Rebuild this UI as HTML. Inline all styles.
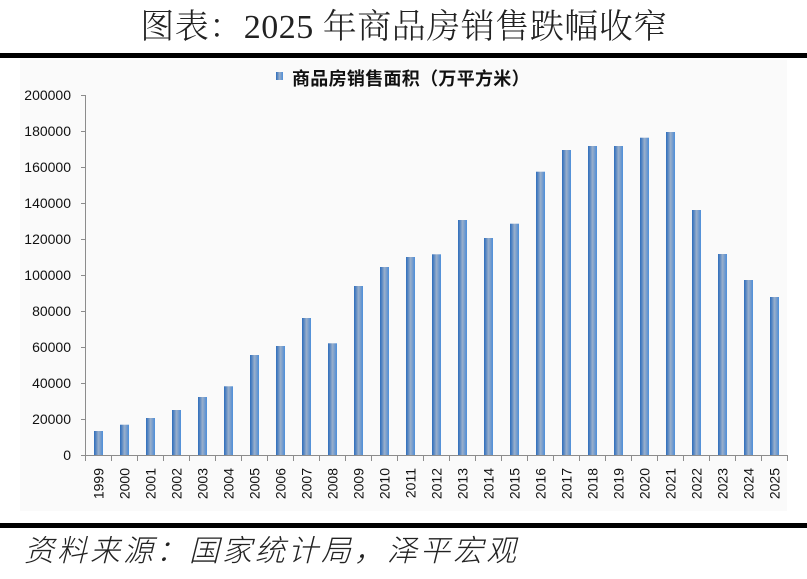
<!DOCTYPE html>
<html><head><meta charset="utf-8"><style>
html,body{margin:0;padding:0;background:#fff;}
svg{display:block;}
</style></head><body>
<svg width="807" height="579" viewBox="0 0 807 579" xmlns="http://www.w3.org/2000/svg">
<defs>
<linearGradient id="bg" x1="0" y1="0" x2="1" y2="0">
<stop offset="0" stop-color="#2f6dbb"/>
<stop offset="0.2" stop-color="#5485c2"/>
<stop offset="0.5" stop-color="#9bb0cb"/>
<stop offset="0.8" stop-color="#6b98cf"/>
<stop offset="1" stop-color="#4c90dc"/>
</linearGradient>
</defs>
<rect x="0" y="0" width="807" height="579" fill="#fff"/>
<text x="404" y="38" text-anchor="middle" font-family="'Liberation Serif','Noto Serif CJK SC',serif" font-size="34" font-weight="300" fill="#222" letter-spacing="0.5">图表：2025 年商品房销售跌幅收窄</text>
<rect x="0" y="53" width="807" height="5" fill="#000"/>
<rect x="20" y="60" width="767" height="451" fill="#fafafa"/>
<!-- legend -->
<rect x="276" y="72" width="7" height="8" fill="url(#bg)"/>
<text x="292" y="85" font-family="'Liberation Sans','Noto Sans CJK SC',sans-serif" font-size="18" font-weight="bold" fill="#111" letter-spacing="0.3">商品房销售面积（万平方米）</text>
<!-- y axis -->
<g stroke="#8c8c8c" stroke-width="1">
<line x1="85.5" y1="95" x2="85.5" y2="455.5"/>
<line x1="85.5" y1="455.5" x2="787.5" y2="455.5"/>
</g>
<g stroke="#8c8c8c" stroke-width="1">
<line x1="81" y1="95.5" x2="86" y2="95.5"/>
<line x1="81" y1="131.5" x2="86" y2="131.5"/>
<line x1="81" y1="167.5" x2="86" y2="167.5"/>
<line x1="81" y1="203.5" x2="86" y2="203.5"/>
<line x1="81" y1="239.5" x2="86" y2="239.5"/>
<line x1="81" y1="275.5" x2="86" y2="275.5"/>
<line x1="81" y1="311.5" x2="86" y2="311.5"/>
<line x1="81" y1="347.5" x2="86" y2="347.5"/>
<line x1="81" y1="383.5" x2="86" y2="383.5"/>
<line x1="81" y1="419.5" x2="86" y2="419.5"/>
<line x1="81" y1="455.5" x2="86" y2="455.5"/>
</g>
<g font-family="'Liberation Sans',sans-serif" font-size="14" fill="#111" text-anchor="end">
<text x="71" y="100">200000</text>
<text x="71" y="136">180000</text>
<text x="71" y="172">160000</text>
<text x="71" y="208">140000</text>
<text x="71" y="244">120000</text>
<text x="71" y="280">100000</text>
<text x="71" y="316">80000</text>
<text x="71" y="352">60000</text>
<text x="71" y="388">40000</text>
<text x="71" y="424">20000</text>
<text x="71" y="460">0</text>
</g>
<!-- x ticks -->
<g stroke="#8c8c8c" stroke-width="1">
<line x1="85.5" y1="455" x2="85.5" y2="461"/>
<line x1="111.5" y1="455" x2="111.5" y2="461"/>
<line x1="137.5" y1="455" x2="137.5" y2="461"/>
<line x1="163.5" y1="455" x2="163.5" y2="461"/>
<line x1="189.5" y1="455" x2="189.5" y2="461"/>
<line x1="215.5" y1="455" x2="215.5" y2="461"/>
<line x1="241.5" y1="455" x2="241.5" y2="461"/>
<line x1="267.5" y1="455" x2="267.5" y2="461"/>
<line x1="293.5" y1="455" x2="293.5" y2="461"/>
<line x1="319.5" y1="455" x2="319.5" y2="461"/>
<line x1="345.5" y1="455" x2="345.5" y2="461"/>
<line x1="371.5" y1="455" x2="371.5" y2="461"/>
<line x1="397.5" y1="455" x2="397.5" y2="461"/>
<line x1="423.5" y1="455" x2="423.5" y2="461"/>
<line x1="449.5" y1="455" x2="449.5" y2="461"/>
<line x1="475.5" y1="455" x2="475.5" y2="461"/>
<line x1="501.5" y1="455" x2="501.5" y2="461"/>
<line x1="527.5" y1="455" x2="527.5" y2="461"/>
<line x1="553.5" y1="455" x2="553.5" y2="461"/>
<line x1="579.5" y1="455" x2="579.5" y2="461"/>
<line x1="605.5" y1="455" x2="605.5" y2="461"/>
<line x1="631.5" y1="455" x2="631.5" y2="461"/>
<line x1="657.5" y1="455" x2="657.5" y2="461"/>
<line x1="683.5" y1="455" x2="683.5" y2="461"/>
<line x1="709.5" y1="455" x2="709.5" y2="461"/>
<line x1="735.5" y1="455" x2="735.5" y2="461"/>
<line x1="761.5" y1="455" x2="761.5" y2="461"/>
<line x1="787.5" y1="455" x2="787.5" y2="461"/>
</g>
<!-- bars -->
<g fill="url(#bg)">
<rect x="94" y="431" width="9" height="24"/>
<rect x="120" y="424.7" width="9" height="30.3"/>
<rect x="146" y="418" width="9" height="37"/>
<rect x="172" y="410" width="9" height="45"/>
<rect x="198" y="397" width="9" height="58"/>
<rect x="224" y="386.3" width="9" height="68.7"/>
<rect x="250" y="355" width="9" height="100"/>
<rect x="276" y="346" width="9" height="109"/>
<rect x="302" y="318" width="9" height="137"/>
<rect x="328" y="343.3" width="9" height="111.7"/>
<rect x="354" y="286" width="9" height="169"/>
<rect x="380" y="267" width="9" height="188"/>
<rect x="406" y="257" width="9" height="198"/>
<rect x="432" y="254.3" width="9" height="200.7"/>
<rect x="458" y="220" width="9" height="235"/>
<rect x="484" y="238" width="9" height="217"/>
<rect x="510" y="223.7" width="9" height="231.3"/>
<rect x="536" y="171.7" width="9" height="283.3"/>
<rect x="562" y="150" width="9" height="305"/>
<rect x="588" y="146" width="9" height="309"/>
<rect x="614" y="146" width="9" height="309"/>
<rect x="640" y="137.7" width="9" height="317.3"/>
<rect x="666" y="132" width="9" height="323"/>
<rect x="692" y="210" width="9" height="245"/>
<rect x="718" y="254" width="9" height="201"/>
<rect x="744" y="280" width="9" height="175"/>
<rect x="770" y="297" width="9" height="158"/>
</g>
<!-- x labels -->
<g font-family="'Liberation Sans',sans-serif" font-size="14" fill="#111" text-anchor="end">
<text transform="translate(103.5,468) rotate(-90)">1999</text>
<text transform="translate(129.5,468) rotate(-90)">2000</text>
<text transform="translate(155.5,468) rotate(-90)">2001</text>
<text transform="translate(181.5,468) rotate(-90)">2002</text>
<text transform="translate(207.5,468) rotate(-90)">2003</text>
<text transform="translate(233.5,468) rotate(-90)">2004</text>
<text transform="translate(259.5,468) rotate(-90)">2005</text>
<text transform="translate(285.5,468) rotate(-90)">2006</text>
<text transform="translate(311.5,468) rotate(-90)">2007</text>
<text transform="translate(337.5,468) rotate(-90)">2008</text>
<text transform="translate(363.5,468) rotate(-90)">2009</text>
<text transform="translate(389.5,468) rotate(-90)">2010</text>
<text transform="translate(415.5,468) rotate(-90)">2011</text>
<text transform="translate(441.5,468) rotate(-90)">2012</text>
<text transform="translate(467.5,468) rotate(-90)">2013</text>
<text transform="translate(493.5,468) rotate(-90)">2014</text>
<text transform="translate(519.5,468) rotate(-90)">2015</text>
<text transform="translate(545.5,468) rotate(-90)">2016</text>
<text transform="translate(571.5,468) rotate(-90)">2017</text>
<text transform="translate(597.5,468) rotate(-90)">2018</text>
<text transform="translate(623.5,468) rotate(-90)">2019</text>
<text transform="translate(649.5,468) rotate(-90)">2020</text>
<text transform="translate(675.5,468) rotate(-90)">2021</text>
<text transform="translate(701.5,468) rotate(-90)">2022</text>
<text transform="translate(727.5,468) rotate(-90)">2023</text>
<text transform="translate(753.5,468) rotate(-90)">2024</text>
<text transform="translate(779.5,468) rotate(-90)">2025</text>
</g>
<rect x="0" y="523" width="807" height="5" fill="#000"/>
<text x="24" y="561" font-family="'Liberation Sans','Noto Sans CJK SC',sans-serif" font-size="30" font-weight="300" font-style="italic" fill="#222" letter-spacing="3">资料来源：国家统计局，泽平宏观</text>
</svg>
</body></html>
